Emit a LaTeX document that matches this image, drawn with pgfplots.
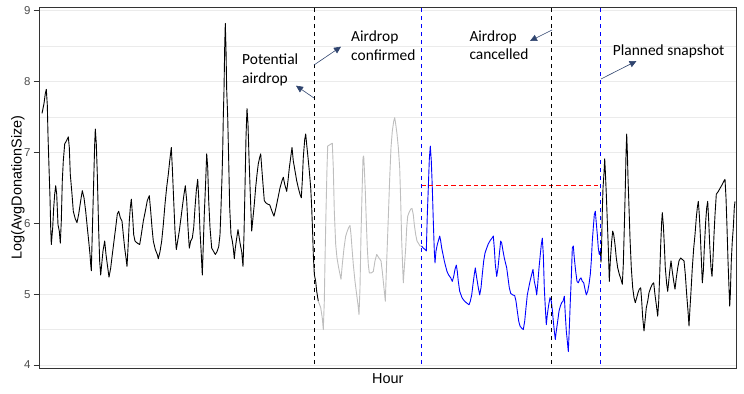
\documentclass[border=0pt]{standalone}
\usepackage{fontspec}
\setmainfont{Liberation Sans}
\newfontfamily\annofont{Carlito}
\usepackage{pgfplots}
\pgfplotsset{compat=1.18}
\usetikzlibrary{arrows.meta}

\definecolor{gridgray}{HTML}{EBEBEB}
\definecolor{ticktext}{HTML}{4D4D4D}
\definecolor{framegray}{HTML}{333333}
\definecolor{arrowblue}{RGB}{47,68,110}
\definecolor{linegray}{HTML}{BEBEBE}
\definecolor{refred}{HTML}{FF0000}
\definecolor{refblue}{HTML}{0000FF}

\begin{document}
\begin{tikzpicture}
\useasboundingbox (0,0) rectangle (744bp,394bp);
\begin{axis}[
    at={(39bp,26bp)}, anchor=south west,
    scale only axis, width=697.5bp, height=361bp,
    xmin=39, xmax=736.5, ymin=3.958, ymax=9.052,
    xtick=\empty,
    ytick={4,5,6,7,8,9},
    minor ytick={4.5,5.5,6.5,7.5,8.5},
    ytick pos=left,
    ymajorgrids, yminorgrids,
    major grid style={gridgray, line width=0.9bp},
    minor grid style={gridgray, line width=0.6bp},
    axis line style={framegray, line width=0.9bp},
    tick align=outside,
    major tick length=5.5bp,
    minor tick length=0pt,
    tick style={framegray, line width=0.8bp},
    /pgf/number format/assume math mode=true,
    yticklabel style={anchor=east, inner sep=0pt, xshift=-2.7bp,
        font=\fontsize{11.5}{12}\selectfont, text=ticktext},
    xlabel={Hour},
    xlabel style={at={(axis description cs:0.5,-0.0139)}, anchor=north,
        inner sep=0pt, font=\fontsize{14.5}{16}\selectfont},
    ylabel={Log(AvgDonationSize)},
    ylabel style={at={(axis description cs:-0.0248,0.5)}, anchor=base,
        inner sep=0pt, font=\fontsize{14.5}{16}\selectfont},
]
% before any airdrop talk
\addplot[black, line width=0.9bp, line join=round] coordinates {
(42,7.55) (44,7.69) (45.3,7.83) (46.3,7.89) (47.3,7.67) (48,7.24) (49,6.79)
(50,6.36) (50.7,5.94) (51.3,5.70) (52.7,5.94) (53.7,6.22) (54.7,6.41) (55.7,6.53)
(56.7,6.41) (58,5.98) (59.3,5.89) (60.3,5.72) (61.3,6.03) (62.3,6.60) (63.3,6.88)
(64.7,7.12) (66.7,7.17) (68.3,7.22) (69.3,7.07) (70.3,6.69) (72,6.41) (73.3,6.17)
(75.3,6.06) (77,6.01) (78.7,6.13) (80.7,6.32) (82.3,6.46) (84,6.36) (85.7,6.17)
(87.3,5.94) (88.7,5.75) (90,5.56) (90.7,5.42) (91.3,5.33) (92.7,6.08) (93.7,6.60)
(94.7,7.12) (95.3,7.33) (96.3,7.12) (97.3,6.69) (98.7,5.89) (99.7,5.46) (100.7,5.27)
(101.7,5.42) (103,5.61) (104.7,5.75) (106,5.56) (107.3,5.42) (109,5.24) (110.7,5.37)
(112.3,5.56) (114,5.75) (115.7,5.94) (117.3,6.13) (118.7,6.17) (120.3,6.08) (122,6.03)
(123.3,5.84) (124.7,5.65) (126,5.51) (127,5.39) (128,5.65) (129.3,6.03) (130.3,6.22)
(131.3,6.34) (132.7,6.08) (133.7,5.84) (135,5.75) (137.3,5.72) (139.7,5.70) (141.3,5.84)
(143.3,6.03) (145.3,6.17) (147.3,6.32) (149.3,6.39) (150.7,6.17) (152,5.94) (153.3,5.75)
(155.3,5.63) (157.3,5.56) (158.3,5.50) (160,5.60) (161.7,5.75) (163.3,5.98) (165,6.27)
(166.7,6.51) (168.3,6.69) (169.7,6.88) (171.3,7.07) (172.3,6.79) (173.7,6.32) (175,5.89)
(176.3,5.63) (177.7,5.75) (179.3,5.89) (181,6.08) (182.7,6.27) (184,6.41) (185.3,6.53)
(186.7,6.32) (188,5.94) (189.3,5.65) (190.7,5.75) (192.3,5.79) (193.7,5.94) (195,6.22)
(196.3,6.46) (197.7,6.62) (198.7,6.36) (200,5.89) (201.3,5.56) (202.3,5.27) (203.3,5.70)
(204.3,6.13) (205.7,6.60) (206.7,6.98) (207.7,6.79) (208.7,6.32) (210,5.94) (211.7,5.65)
(213.7,5.60) (215.3,5.56) (217,5.60) (218.7,5.67) (220,5.84) (221,6.22) (222,6.65)
(222.7,7.03) (223.3,7.50) (224,7.88) (224.7,8.49) (225.3,8.82) (226,8.46) (226.7,7.88)
(227.7,7.50) (228.7,6.88) (229.7,6.22) (231,5.84) (232.3,5.75) (233.3,5.65) (234.3,5.50)
(235.3,5.65) (236.7,5.79) (238,5.91) (239.3,5.79) (240.3,5.70) (241.7,5.60) (243,5.39)
(244,5.84) (245,6.51) (246,7.22) (247,7.62) (248,7.40) (249,6.93) (250.3,6.41)
(251.7,5.89) (253,6.08) (254.3,6.27) (255.7,6.51) (257,6.69) (258.3,6.84) (259.7,6.93)
(260.7,6.98) (261.7,6.79) (263,6.55) (264.3,6.32) (265.7,6.29) (267.7,6.27) (269.7,6.26)
(272,6.17) (274,6.10) (276,6.22) (278,6.36) (280,6.50) (282,6.60) (283.3,6.65)
(284.7,6.55) (286.7,6.45) (288,6.60) (289.3,6.78) (290.7,6.93) (292,7.07) (293.3,6.88)
(295,6.74) (296.7,6.60) (298.3,6.50) (300,6.41) (301.3,6.36) (302.3,6.60) (303.3,6.93)
(304.7,7.18) (305.7,7.26) (306.7,7.11) (308,6.93) (309.3,6.74) (310.7,6.50) (311.7,6.22)
(312.7,5.84) (313.3,5.56) (314.3,5.28) (315.7,5.18) (316.7,5.04) (318.3,4.90)
};
% potential airdrop -> confirmed
\addplot[linegray, line width=0.9bp, line join=round] coordinates {
(318.3,4.90) (320.7,4.81) (322.3,4.66) (323.3,4.50) (324.3,4.90) (325,5.47) (326,6.17)
(327,6.78) (327.7,7.09) (330,7.11) (332.3,7.13) (333.3,6.78) (334.3,6.17) (335.7,5.70)
(337,5.51) (338.7,5.37) (341,5.21) (342.3,5.42) (344,5.65) (345.7,5.82) (347.3,5.89)
(348.7,5.94) (350,5.97) (351,5.84) (352,5.65) (353.3,5.42) (355,5.18) (356.7,4.99)
(358,4.85) (359,4.71) (360,5.09) (361,5.84) (362,6.41) (363,6.93) (363.7,6.95)
(364.3,6.78) (365.3,6.45) (366.3,6.03) (367.3,5.65) (368.3,5.42) (369.3,5.30) (371.3,5.30)
(373.3,5.32) (375,5.47) (376.7,5.56) (379,5.51) (381,5.47) (382.3,5.32) (383.3,5.18)
(384.3,5.04) (385.3,4.90) (386.7,5.47) (388.3,6.08) (389.7,6.64) (391,7.07) (392.3,7.30)
(393.7,7.44) (394.7,7.49) (395.7,7.40) (397,7.26) (398.3,7.07) (399.7,6.78) (400.7,6.31)
(401.7,5.75) (402.7,5.37) (403.3,5.16) (404.3,5.37) (405.7,5.65) (406.7,5.94) (407.7,6.10)
(409,6.15) (410.7,6.20) (412,6.21) (413.3,6.12) (414.3,5.98) (415.7,5.84) (417,5.75)
(418.3,5.72) (420,5.68) (421.5,5.68)
};
% confirmed -> snapshot
\addplot[refblue, line width=0.9bp, line join=round] coordinates {
(421.5,5.68) (423.3,5.65) (425,5.63) (426.3,5.61) (427.3,6.12) (428.3,6.50) (429.3,6.90)
(430.3,7.09) (431.3,6.88) (432.3,6.50) (433.3,6.03) (434.3,5.61) (435,5.44) (436,5.61)
(437.3,5.70) (438.3,5.75) (439.7,5.82) (440.7,5.75) (441.7,5.65) (443,5.56) (444.3,5.47)
(445.7,5.39) (447,5.32) (448.7,5.27) (450.7,5.23) (452.3,5.18) (453.7,5.25) (455,5.35)
(456.3,5.41) (457.3,5.32) (458.3,5.18) (459.7,5.04) (461,4.99) (462,4.95) (464,4.91)
(466.3,4.88) (469,4.85) (470.3,4.90) (471.7,4.99) (473,5.14) (474.3,5.28) (475.3,5.37)
(476.7,5.23) (478.3,5.09) (479.7,4.99) (481,5.09) (482.3,5.28) (483.7,5.47) (485,5.58)
(486.7,5.65) (488.3,5.71) (490.3,5.76) (492,5.79) (493.3,5.82) (494.3,5.65) (495.3,5.42)
(496.7,5.25) (498,5.37) (499.3,5.56) (500.7,5.75) (501.7,5.72) (503,5.61) (504.3,5.51)
(506.7,5.37) (508,5.23) (509.3,5.09) (510.7,5.01) (512.7,4.99) (514.7,4.98) (516,4.90)
(517.3,4.76) (518.7,4.62) (520,4.55) (521.7,4.52) (523.3,4.50) (524.7,4.62) (526,4.81)
(527.3,4.99) (528.7,5.09) (530,5.18) (531.7,5.28) (533,5.35) (534.3,5.18) (535.7,5.09)
(536.7,4.99) (537.7,5.14) (539,5.37) (540.3,5.56) (541.3,5.70) (542.3,5.79) (543.3,5.56)
(544.3,5.09) (545.3,4.81) (546.3,4.57) (547.3,4.71) (548.7,4.85) (550,4.95) (551.3,4.90)
(552.3,4.78) (553.3,4.62) (554.3,4.48) (555.3,4.36) (556.3,4.48) (557.7,4.62) (559,4.76)
(560.3,4.83) (561.7,4.88) (563,4.90) (564.3,4.97) (565.3,4.71) (566.3,4.48) (567.3,4.34)
(568.3,4.19) (569.3,4.52) (570.3,4.90) (571.3,5.23) (572.3,5.65) (573.3,5.68) (574.3,5.51)
(575.7,5.32) (577,5.18) (578.3,5.16) (579.7,5.21) (581,5.23) (582.3,5.18) (583.7,5.16)
(585,5.07) (586.3,4.99) (587.7,5.04) (589,5.14) (590.3,5.28) (591.3,5.47) (592.3,5.75)
(593.3,5.94) (594.3,6.12) (595.3,6.17) (596.3,6.00) (597.3,5.84) (598.3,5.65) (599.3,5.56)
(600.3,5.61)
};
% after snapshot
\addplot[black, line width=0.9bp, line join=round] coordinates {
(600.3,5.61) (601,5.45) (601.7,5.75) (602.3,6.17) (603,6.50) (604,6.71) (604.7,6.91)
(605.3,6.74) (606.3,6.41) (607.3,6.03) (608.3,5.65) (609.3,5.18) (610.3,5.47) (611.7,5.75)
(612.7,5.89) (613.7,5.84) (615,5.70) (616.3,5.51) (617.7,5.37) (619.3,5.28) (621,5.21)
(622.3,5.14) (623.3,5.42) (624.3,5.94) (625.3,6.50) (626,6.97) (626.7,7.26) (627.3,7.02)
(628,6.64) (629,6.22) (630,5.79) (631.3,5.37) (632.7,5.09) (634,4.95) (635.3,4.88)
(636.7,4.95) (638,5.02) (639.3,5.07) (640.7,5.09) (641.7,4.90) (642.7,4.67) (644,4.48)
(645,4.62) (646.3,4.81) (647.7,4.90) (649,5.02) (650.7,5.09) (652.3,5.14) (653.7,5.16)
(655,4.99) (656.3,4.85) (657.7,4.69) (658.7,4.90) (659.7,5.28) (660.7,5.70) (661.7,6.03)
(662.3,6.15) (663.3,5.98) (664.3,5.70) (665.3,5.37) (666.7,5.14) (667.7,5.04) (668.7,5.18)
(669.7,5.32) (671,5.47) (672.3,5.32) (673.7,5.18) (675,5.07) (676.3,5.23) (677.7,5.37)
(679,5.47) (680.7,5.51) (682.3,5.49) (684,5.47) (685.3,5.28) (686.7,4.99) (688,4.76)
(689,4.55) (690,4.81) (691,5.04) (692.3,5.37) (693.7,5.65) (695,5.84) (696.3,6.08)
(697.3,6.22) (698.3,6.31) (699.3,6.12) (700.3,5.84) (701.3,5.51) (702.3,5.16) (703.3,5.32)
(704.3,5.65) (705.7,6.03) (706.7,6.22) (707.7,6.31) (708.7,6.03) (709.7,5.70) (711,5.37)
(712,5.25) (713,5.51) (714,5.84) (715,6.12) (716.3,6.41) (718.3,6.45) (720.3,6.50)
(722.3,6.55) (724,6.60) (725,6.62) (726,6.36) (727,5.94) (728,5.47) (729,5.09)
(729.7,4.83) (730.3,4.99) (731.3,5.47) (732.3,5.75) (733.3,5.94) (734.3,6.22) (735,6.31)
};
% pre-airdrop level
\addplot[color=refred, line width=0.8bp, dash pattern=on 4.5bp off 3bp] coordinates {(421.3,6.535) (600.7,6.535)};
% event markers
\addplot[color=black, line width=0.8bp, dash pattern=on 4bp off 4bp] coordinates {(314.3,3.9) (314.3,9.1)};
\addplot[color=refblue, line width=0.8bp, dash pattern=on 4bp off 4bp] coordinates {(421.3,3.9) (421.3,9.1)};
\addplot[color=black, line width=0.8bp, dash pattern=on 4bp off 4bp] coordinates {(551.7,3.9) (551.7,9.1)};
\addplot[color=refblue, line width=0.8bp, dash pattern=on 4bp off 4bp] coordinates {(600.7,3.9) (600.7,9.1)};
\end{axis}

\begin{scope}[every node/.style={anchor=base west, inner sep=0pt, font=\annofont\fontsize{15.5}{18}\selectfont}]
\node at (242bp,329bp) {Potential};
\node at (242bp,310.5bp) {airdrop};
\node at (351bp,352bp) {Airdrop};
\node at (351bp,333bp) {confirmed};
\node at (469.3bp,352bp) {Airdrop};
\node at (469.3bp,334.7bp) {cancelled};
\node at (612.7bp,338bp) {Planned snapshot};
\end{scope}
\begin{scope}[arrowblue, line width=0.6bp, -{Triangle[length=7bp,width=6.5bp]}]
\draw (314bp,296bp) -- (296bp,308.3bp);
\draw (314bp,329bp) -- (341bp,347.3bp);
\draw (552bp,364bp) -- (530bp,353bp);
\draw (601bp,315bp) -- (636.5bp,333bp);
\end{scope}
\end{tikzpicture}
\end{document}
